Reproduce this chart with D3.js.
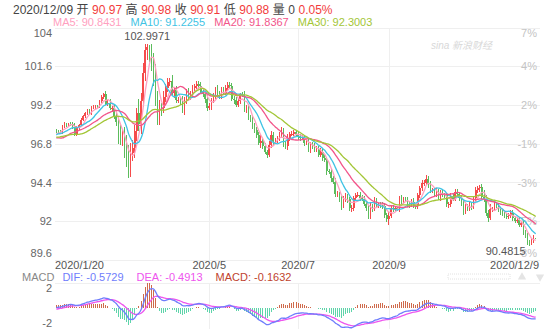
<!DOCTYPE html>
<html>
<head>
<meta charset="utf-8">
<script src="https://cdn.jsdelivr.net/npm/d3@7/dist/d3.min.js"></script>
<style>
  body { margin: 0; background: #fff; }
  svg { display: block; font-family: "Liberation Sans", Arial, "Noto Sans CJK SC", sans-serif; }
</style>
</head>
<body>
<svg id="chart" width="554" height="329"></svg>
<script>
// closes before the visible window, only used to warm up the MA / MACD
const warmupCloses = [
  97.87, 97.72, 97.67, 97.41, 97.69, 97.62, 97.42, 96.96, 97.09, 97.18, 97.02,
  97.17, 97.40, 97.40, 97.66, 97.68, 97.68, 97.66, 97.66, 96.94, 96.74, 96.39,
  96.39, 96.84, 96.84, 96.67, 97.00, 97.31, 97.44, 97.36, 97.34, 97.37, 97.22, 97.30, 97.61
]

// daily closes 2020/1/20 .. 2020/12/9, one line per month
const closes = [
  97.59, 97.55, 97.51, 97.86, 98.01, 97.97, 98.03, 98.02, 97.87, 97.39,
  97.78, 97.95, 98.30, 98.51, 98.68, 98.83, 98.69, 99.03, 99.07, 99.11, 99.10, 99.43, 99.72, 99.86, 99.29, 99.35, 99.00, 99.04, 98.50, 98.13,
  97.36, 97.14, 97.34, 96.72, 95.93, 94.96, 96.22, 96.51, 97.56, 98.70, 98.02, 99.47, 101.21, 102.58, 102.79, 102.35, 101.91, 101.06, 99.46, 98.36, 99.04, 99.03,
  99.67, 100.23, 100.61, 100.66, 99.95, 100.10, 99.51, 99.52, 99.44, 98.91, 99.48, 99.96, 99.72, 99.89, 100.24, 100.37, 100.48, 100.40, 100.02, 99.88, 99.59, 99.02,
  99.11, 99.47, 99.77, 100.16, 99.87, 99.75, 100.15, 99.97, 100.25, 100.45, 100.38, 99.59, 99.48, 99.21, 99.47, 99.86, 99.84, 98.93, 99.04, 98.43, 98.34,
  97.84, 97.67, 97.33, 96.86, 96.94, 96.65, 96.29, 96.10, 96.74, 97.33, 96.96, 97.00, 97.11, 97.38, 97.63, 96.78, 96.64, 97.15, 97.40, 97.43, 97.53, 97.39,
  97.19, 97.18, 97.19, 96.85, 96.93, 96.42, 96.77, 96.63, 96.47, 96.48, 96.11, 96.32, 95.92, 95.80, 95.09, 95.05, 94.65, 94.43, 93.68, 93.69, 93.37, 92.96, 93.35,
  93.52, 93.35, 92.79, 92.81, 93.44, 93.63, 93.64, 93.45, 93.39, 93.09, 92.85, 92.27, 92.93, 92.79, 93.28, 92.99, 93.00, 92.98, 92.97, 92.37, 92.14,
  92.35, 92.81, 92.79, 92.80, 92.75, 93.43, 93.24, 93.35, 93.33, 93.06, 93.04, 93.21, 92.94, 92.93, 93.62, 94.04, 94.36, 94.40, 94.64, 94.29, 93.88, 93.88,
  93.70, 93.84, 93.48, 93.80, 93.63, 93.60, 93.05, 93.06, 93.52, 93.40, 93.83, 93.68, 93.43, 93.08, 92.60, 92.94, 92.77, 93.06, 92.92, 93.41, 93.91, 94.03,
  94.10, 93.51, 93.40, 92.53, 92.23, 92.74, 92.76, 93.02, 92.96, 92.75, 92.55, 92.45, 92.33, 92.31, 92.38, 92.52, 92.18, 92.02, 92.10, 91.77, 91.87,
  91.32, 91.13, 90.71, 90.70, 90.80, 90.97, 90.91
]

// wick lengths in hundredths above the body / below the body
const upperWick = [
  12, 8, 10, 9, 15, 10, 8, 10, 12, 20,
  10, 8, 9, 10, 8, 12, 15, 9, 12, 10, 8, 10, 8, 6, 20, 15, 20, 10, 18, 30,
  30, 60, 40, 50, 60, 80, 60, 50, 40, 30, 90, 50, 60, 40, 20.71, 15, 60, 50, 70, 60, 50, 30,
  40, 30, 25, 20, 40, 20, 30, 15, 20, 30, 20, 25, 30, 20, 20, 15, 20, 20, 25, 20, 20, 25,
  20, 15, 15, 15, 25, 20, 15, 15, 20, 15, 15, 20, 15, 20, 15, 10, 15, 25, 15, 20, 15,
  20, 25, 15, 20, 40, 20, 20, 15, 20, 25, 20, 15, 15, 15, 20, 15, 20, 25, 15, 15, 10, 15,
  20, 20, 15, 15, 15, 20, 15, 15, 20, 15, 15, 20, 15, 20, 20, 15, 20, 15, 25, 20, 15, 20, 20,
  20, 15, 15, 20, 15, 15, 20, 15, 15, 20, 15, 15, 20, 15, 20, 15, 15, 20, 20, 15, 15,
  20, 15, 20, 15, 10, 15, 20, 15, 15, 15, 20, 15, 20, 15, 15, 15, 20, 15, 25, 15, 20, 15,
  15, 20, 15, 15, 20, 15, 15, 15, 20, 15, 15, 15, 15, 20, 15, 15, 15, 20, 15, 15, 20, 15,
  15, 20, 40, 20, 15, 30, 15, 15, 20, 15, 15, 15, 15, 20, 15, 15, 15, 15, 15, 15, 15,
  15, 15, 15, 15, 15, 15, 1
]
const lowerWick = [
  10, 12, 8, 10, 9, 15, 8, 10, 14, 8,
  10, 12, 8, 9, 10, 8, 12, 10, 8, 10, 6, 8, 12, 15, 10, 18, 12, 20, 15, 25,
  60, 40, 50, 80, 60, 31, 20, 50, 60, 60, 40, 60, 40, 50, 60, 50, 60, 70, 30, 40, 40, 50,
  30, 30, 20, 25, 20, 30, 20, 20, 25, 20, 30, 20, 25, 20, 20, 25, 20, 20, 15, 20, 25, 20,
  15, 20, 15, 20, 15, 15, 20, 15, 15, 15, 20, 15, 20, 15, 15, 20, 15, 15, 20, 15, 20,
  15, 20, 20, 15, 30, 20, 15, 20, 15, 20, 25, 20, 15, 15, 20, 20, 15, 20, 15, 15, 15, 20,
  15, 20, 15, 20, 15, 15, 20, 15, 15, 20, 15, 15, 20, 15, 20, 15, 20, 15, 20, 15, 20, 25, 15,
  15, 20, 15, 20, 15, 15, 15, 20, 15, 15, 20, 15, 15, 20, 15, 15, 20, 15, 20, 15, 20,
  39, 15, 20, 15, 10, 15, 20, 15, 15, 15, 20, 15, 15, 15, 15, 15, 15, 15, 15, 20, 15, 15,
  15, 20, 15, 20, 15, 15, 15, 20, 15, 15, 15, 15, 15, 15, 20, 15, 15, 15, 20, 15, 15, 15,
  20, 15, 20, 20, 25, 15, 15, 15, 15, 15, 15, 15, 15, 15, 15, 15, 15, 15, 15, 15, 15,
  15, 15, 15, 21.85, 15, 15, 3
]

const priceTicks = [104, 101.6, 99.2, 96.8, 94.4, 92, 89.6]
const pctLabels = ['7%', '4%', '2%', '-1%', '-3%', '-5%', '-8%']
const monthLines = ['2020-05-01', '2020-07-01', '2020-09-01']
const dateLabels = ['2020/1/20', '2020/5', '2020/7', '2020/9', '2020/12/9']
const macdTicks = ['2', '-2']

const headerItems = [
  ['2020/12/09', '#444'], ['开', '#444'], ['90.97', '#f23c3c'], ['高', '#444'], ['90.98', '#f23c3c'],
  ['收', '#444'], ['90.91', '#f23c3c'], ['低', '#444'], ['90.88', '#f23c3c'], ['量', '#444'],
  ['0', '#444'], ['0.05%', '#f23c3c']
]
const maPeriods = [5, 10, 20, 30]
const maValues = ['90.8431', '91.2255', '91.8367', '92.3003']
const maColors = ['#ffa0c0', '#3fc3e4', '#f2558a', '#a3c637']
const macdNames = ['DIF', 'DEA', 'MACD']
const macdValues = ['-0.5729', '-0.4913', '-0.1632']
const macdColors = ['#6f7dfc', '#ee55ee', '#c0432e']

const upColor = '#f54b4b'
const downColor = '#5cbc5c'

const svg = d3.select('#chart')
const box = { left: 55, right: 537, top: 27.5, bottom: 260, macdTop: 283, macdBottom: 333 }

// trading days (weekdays) of the visible window
const dates = d3.timeDay.range(new Date(2020, 0, 20), new Date(2020, 11, 10))
  .filter(d => d.getDay() !== 0 && d.getDay() !== 6)
  .slice(0, closes.length)

const allCloses = warmupCloses.concat(closes)
const offset = warmupCloses.length

const candles = closes.map((c, i) => {
  const o = allCloses[offset + i - 1]
  return {
    date: dates[i],
    open: o,
    close: c,
    high: Math.max(o, c) + upperWick[i] / 100,
    low: Math.min(o, c) - lowerWick[i] / 100
  }
})

const x = d3.scaleBand().domain(dates).range([box.left, box.right]).padding(0.25)
const cx = d => x(d) + x.bandwidth() / 2
const y = d3.scaleLinear().domain([89.6, 104]).range([box.bottom, box.top])

// moving averages
const maSeries = maPeriods.map(p => closes.map((c, i) => {
  const k = offset + i
  return d3.mean(allCloses.slice(k - p + 1, k + 1))
}))

// MACD (12, 26, 9)
let e12 = allCloses[0], e26 = allCloses[0], dea = 0
const dif = [], deaArr = [], hist = []
allCloses.forEach((c, k) => {
  e12 = e12 * 11 / 13 + c * 2 / 13
  e26 = e26 * 25 / 27 + c * 2 / 27
  const d = e12 - e26
  dea = dea * 8 / 10 + d * 2 / 10
  if (k >= offset) {
    dif.push(d)
    deaArr.push(dea)
    hist.push(2 * (d - dea))
  }
})
// pane is symmetric around zero, sized to the largest swing
const macdMax = d3.max(dif.concat(deaArr, hist), v => Math.abs(v))
const ym = d3.scaleLinear().domain([-macdMax, macdMax]).range([box.macdBottom, box.macdTop])

// ---- grid ----
const grid = svg.append('g').attr('stroke', '#efefef').attr('shape-rendering', 'crispEdges')
grid.selectAll('.h').data(priceTicks).join('line')
  .attr('x1', box.left).attr('x2', box.right + 3)
  .attr('y1', d => Math.round(y(d)) + 0.5).attr('y2', d => Math.round(y(d)) + 0.5)
const fmtDay = d3.timeFormat('%Y-%m-%d')
const monthIdx = monthLines.map(s => dates.findIndex(d => fmtDay(d) === s))
grid.append('g').selectAll('line').data(monthIdx).join('line')
  .attr('x1', i => Math.round(cx(dates[i])) + 0.5).attr('x2', i => Math.round(cx(dates[i])) + 0.5)
  .attr('y1', box.top).attr('y2', box.bottom)
grid.append('g').selectAll('line').data(monthIdx).join('line')
  .attr('x1', i => Math.round(cx(dates[i])) + 0.5).attr('x2', i => Math.round(cx(dates[i])) + 0.5)
  .attr('y1', box.macdTop).attr('y2', 329)
grid.append('line').attr('x1', box.left).attr('x2', box.right + 3)
  .attr('y1', box.macdTop + 0.5).attr('y2', box.macdTop + 0.5)

// ---- axis labels ----
const lastI = priceTicks.length - 1
const labelShift = i => i === 0 ? 9 : i === lastI ? -3 : 4
svg.append('g').selectAll('text').data(priceTicks).join('text')
  .attr('x', 52).attr('text-anchor', 'end')
  .attr('y', (d, i) => y(d) + labelShift(i))
  .attr('font-size', 11).attr('fill', '#666')
  .text(d => d)
svg.append('g').selectAll('text').data(pctLabels).join('text')
  .attr('x', box.right).attr('text-anchor', 'end')
  .attr('y', (d, i) => y(priceTicks[i]) + labelShift(i))
  .attr('font-size', 11).attr('fill', '#c4c4c4')
  .text(d => d)

const labelIdx = [0].concat(monthIdx, [dates.length - 1])
const nLab = dateLabels.length - 1
svg.append('g').selectAll('text').data(dateLabels).join('text')
  .attr('x', (d, i) => i === 0 ? box.left : i === nLab ? box.right + 2 : cx(dates[labelIdx[i]]))
  .attr('text-anchor', (d, i) => i === 0 ? 'start' : i === nLab ? 'end' : 'middle')
  .attr('y', 269).attr('font-size', 11).attr('fill', '#555')
  .text(d => d)

// watermark
svg.append('text').attr('x', 431).attr('y', 49).attr('font-size', 10)
  .attr('fill', '#d8d8d8').attr('font-style', 'italic').text('sina 新浪财经')

// ---- candles ----
const cg = svg.append('g').attr('shape-rendering', 'crispEdges')
cg.selectAll('line').data(candles).join('line')
  .attr('x1', d => cx(d.date)).attr('x2', d => cx(d.date))
  .attr('y1', d => y(d.high)).attr('y2', d => y(d.low))
  .attr('stroke', d => d.close >= d.open ? upColor : downColor)
cg.selectAll('rect').data(candles).join('rect')
  .attr('x', d => x(d.date)).attr('width', x.bandwidth())
  .attr('y', d => y(Math.max(d.open, d.close)))
  .attr('height', d => Math.max(1, Math.abs(y(d.open) - y(d.close))))
  .attr('fill', d => d.close >= d.open ? upColor : downColor)

// ---- MA lines ----
const maLine = d3.line().x((v, i) => cx(dates[i])).y(v => y(v)).curve(d3.curveMonotoneX)
svg.append('g').selectAll('path').data(maSeries).join('path')
  .attr('d', maLine).attr('fill', 'none')
  .attr('stroke', (d, i) => maColors[i]).attr('stroke-width', 1.3)

// max / min labels
const maxC = d3.greatest(candles, d => d.high)
const minC = d3.least(candles, d => d.low)
svg.append('text').attr('x', cx(maxC.date)).attr('y', y(maxC.high) - 4)
  .attr('text-anchor', 'middle').attr('font-size', 11).attr('fill', '#555')
  .text(d3.format('.4f')(maxC.high))
svg.append('text').attr('x', cx(minC.date) - 4).attr('y', y(minC.low) + 9)
  .attr('text-anchor', 'end').attr('font-size', 11).attr('fill', '#555')
  .text(d3.format('.4f')(minC.low))

// ---- header ----
const head = svg.append('text').attr('x', 13).attr('y', 14).attr('font-size', 12)
headerItems.forEach(([t, c], i) => {
  head.append('tspan').attr('fill', c).attr('dx', i ? 3.5 : 0).text(t)
})
const maHead = svg.append('text').attr('x', 53).attr('y', 26).attr('font-size', 11)
maPeriods.forEach((p, i) => {
  maHead.append('tspan').attr('fill', maColors[i]).attr('dx', i ? 9 : 0)
    .text(`MA${p}: ${maValues[i]}`)
})

// ---- MACD pane ----
const macdHead = svg.append('text').attr('x', 22).attr('y', 280.5).attr('font-size', 11)
macdHead.append('tspan').attr('fill', '#888').text('MACD')
macdNames.forEach((n, i) => {
  macdHead.append('tspan').attr('fill', macdColors[i]).attr('dx', i ? 13 : 8)
    .text(`${n}: ${macdValues[i]}`)
})
svg.append('g').selectAll('text').data(macdTicks).join('text')
  .attr('x', 52).attr('text-anchor', 'end')
  .attr('y', (d, i) => i === 0 ? ym(macdMax) + 9 : ym(-macdMax) - 6)
  .attr('font-size', 11).attr('fill', '#666').text(d => d)

// navigator widget at the top right of the pane
svg.append('rect').attr('x', 448).attr('y', 274).attr('width', 62).attr('height', 5)
  .attr('fill', 'none').attr('stroke', '#e2e2e2').attr('stroke-dasharray', '1,1')
svg.append('path').attr('d', d3.symbol(d3.symbolTriangle, 30)()).attr('transform', 'translate(522,277)').attr('fill', '#e4e4e4')
svg.append('path').attr('d', d3.symbol(d3.symbolTriangle, 30)()).attr('transform', 'translate(540,277) rotate(180)').attr('fill', '#e4e4e4')

svg.append('g').attr('shape-rendering', 'crispEdges').selectAll('line').data(hist).join('line')
  .attr('x1', (v, i) => cx(dates[i])).attr('x2', (v, i) => cx(dates[i]))
  .attr('y1', ym(0)).attr('y2', v => ym(v))
  .attr('stroke', v => v >= 0 ? '#cf6a4c' : '#5fd4aa')
const macdLine = d3.line().x((v, i) => cx(dates[i])).y(v => ym(v)).curve(d3.curveMonotoneX)
svg.append('path').datum(deaArr).attr('d', macdLine).attr('fill', 'none')
  .attr('stroke', macdColors[1]).attr('stroke-width', 1.3)
svg.append('path').datum(dif).attr('d', macdLine).attr('fill', 'none')
  .attr('stroke', macdColors[0]).attr('stroke-width', 1.3)
</script>
</body>
</html>
